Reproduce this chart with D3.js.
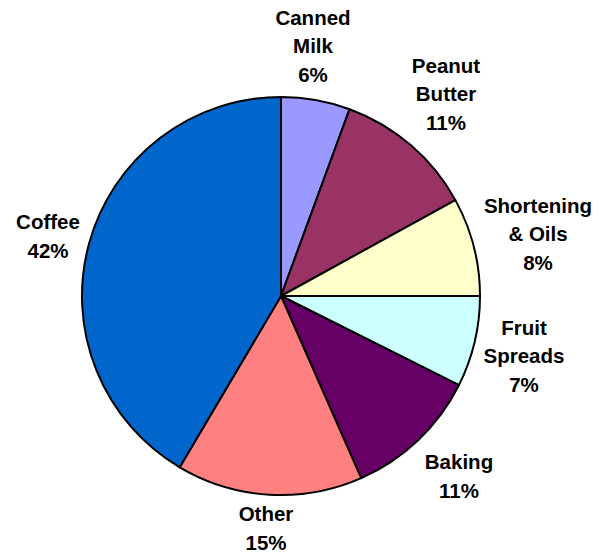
<!DOCTYPE html>
<html>
<head>
<meta charset="utf-8">
<script src="https://cdn.jsdelivr.net/npm/d3@7"></script>
<style>
  body { margin: 0; background: #fff; }
  text { font-family: "Liberation Sans", Arial, sans-serif; font-weight: bold; fill: #000; }
</style>
</head>
<body>
<svg id="chart"></svg>
<script>
// Share of spending by product
const categories = ['Canned Milk', 'Peanut Butter', 'Shortening & Oils', 'Fruit Spreads', 'Baking', 'Other', 'Coffee']
const shares = [5.6, 11.4, 8.0, 7.4, 11.0, 15.1, 41.5]
const colors = ['#9999FF', '#993366', '#FFFFCC', '#CCFFFF', '#660066', '#FF8080', '#0066CC']

const width = 605
const height = 555
const cx = 281
const cy = 296
const radius = 199
const fontSize = 20.5
const lineGap = 28.5

// label block centres, offsets from the pie centre
const labelPos = [[32, -250], [165, -202], [257, -62], [243, 60], [178, 180], [-15, 232], [-233, -60]]

const data = categories.map((c, i) => ({ name: c, value: shares[i], color: colors[i] }))

const svg = d3.select('#chart')
    .attr('width', width)
    .attr('height', height)

const g = svg.append('g')
    .attr('transform', `translate(${cx},${cy})`)

const pie = d3.pie()
    .sort(null)
    .value(d => d.value)

const arc = d3.arc()
    .innerRadius(0)
    .outerRadius(radius)

const arcs = pie(data)

g.selectAll('path.slice')
    .data(arcs)
    .enter()
    .append('path')
    .attr('class', 'slice')
    .attr('d', arc)
    .attr('fill', d => d.data.color)
    .attr('stroke', '#000')
    .attr('stroke-width', 2)
    .attr('stroke-linejoin', 'round')

const labels = g.selectAll('text.label')
    .data(arcs)
    .enter()
    .append('text')
    .attr('class', 'label')
    .attr('text-anchor', 'middle')
    .style('font-size', fontSize + 'px')

labels.each(function (d, i) {
    const name = d.data.name
    const sp = name.indexOf(' ')
    const lines = sp > 0 ? [name.slice(0, sp), name.slice(sp + 1)] : [name]
    lines.push(Math.round(d.data.value) + '%')
    const [lx, ly] = labelPos[i]
    const top = ly - (lines.length - 1) * lineGap / 2 + fontSize * 0.36
    d3.select(this).selectAll('tspan')
        .data(lines)
        .enter()
        .append('tspan')
        .attr('x', lx)
        .attr('y', (t, k) => top + k * lineGap)
        .text(t => t)
})
</script>
</body>
</html>
